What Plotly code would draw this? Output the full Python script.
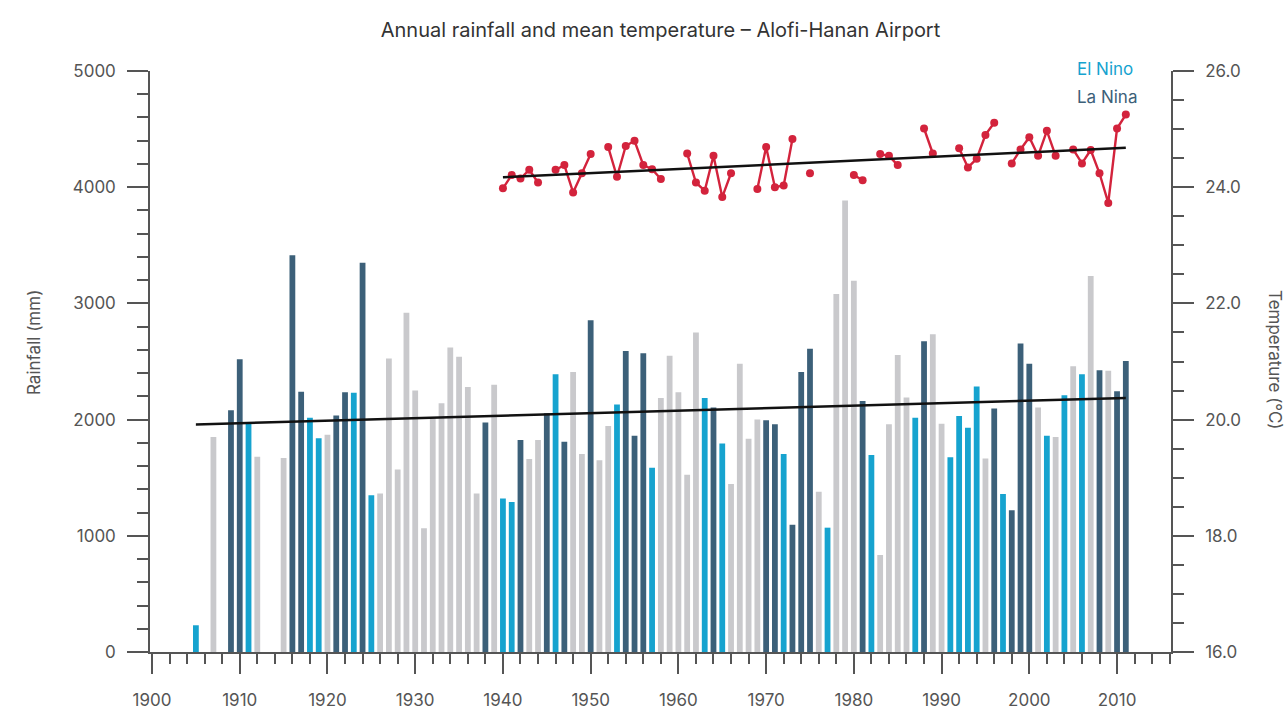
import plotly.graph_objects as go

# ---------------- data ----------------
rain_years = list(range(1905, 2012))
rainfall = [
    230, None, 1850, None, 2080, 2520, 1970, 1680, None, None,          # 1905-1914
    1670, 3415, 2240, 2015, 1840, 1870, 2035, 2235, 2230, 3350,          # 1915-1924
    1350, 1365, 2525, 1570, 2920, 2250, 1065, 2010, 2140, 2620,          # 1925-1934
    2540, 2280, 1365, 1975, 2300, 1320, 1290, 1825, 1660, 1825,          # 1935-1944
    2055, 2390, 1810, 2410, 1705, 2855, 1650, 1945, 2130, 2590,          # 1945-1954
    1860, 2570, 1585, 2185, 2550, 2235, 1525, 2750, 2185, 2105,          # 1955-1964
    1795, 1445, 2480, 1835, 2000, 1995, 1960, 1705, 1095, 2410,          # 1965-1974
    2610, 1380, 1070, 3080, 3885, 3195, 2160, 1695, 835, 1960,           # 1975-1984
    2555, 2190, 2015, 2675, 2735, 1965, 1675, 2030, 1930, 2285,          # 1985-1994
    1665, 2095, 1360, 1220, 2655, 2480, 2105, 1860, 1850, 2210,          # 1995-2004
    2460, 2390, 3235, 2425, 2420, 2245, 2505,                            # 2005-2011
]
# E = El Nino, L = La Nina, N = neutral
enso = list(
    "ENNNLLEN" "NN"
    "NLLEENLLEL"
    "ENNNNNNNNN"
    "NNNLNEELNN"
    "LELNNLNNEL"
    "LLENNNNNEL"
    "ENNNNLLELL"
    "LNENNNLENN"
    "NNELNNEEEE"
    "NLELLLNENE"
    "NENLNLL"
)

temp_years = list(range(1940, 2012))
temperature = [
    23.98, 24.21, 24.15, 24.30, 24.08, None, 24.30, 24.38, 23.91, 24.24,   # 1940-1949
    24.57, None, 24.69, 24.18, 24.71, 24.80, 24.38, 24.31, 24.14, None,    # 1950-1959
    None, 24.58, 24.08, 23.94, 24.54, 23.83, 24.24, None, None, 23.97,     # 1960-1969
    24.69, 24.00, 24.03, 24.83, None, 24.24, None, None, None, None,       # 1970-1979
    24.21, 24.12, None, 24.57, 24.54, 24.38, None, None, 25.01, 24.58,     # 1980-1989
    None, None, 24.67, 24.34, 24.49, 24.90, 25.11, None, 24.41, 24.65,     # 1990-1999
    24.86, 24.54, 24.97, 24.54, None, 24.65, 24.41, 24.64, 24.24, 23.73,   # 2000-2009
    25.01, 25.25,                                                          # 2010-2011
]

rain_trend_years = [1905, 2011]
rain_trend = [1958, 2186]
temp_trend_years = [1940, 2011]
temp_trend = [24.17, 24.68]

title_text = "Annual rainfall and mean temperature \u2013 Alofi-Hanan Airport"

# ---------------- style ----------------
C_EL = "#16a3cf"
C_LA = "#3c6079"
C_NEU = "#c9c9cc"
C_RED = "#d3233c"
AX = "#555555"
TXT = "#555555"
FONT = "Inter, Liberation Sans, Arial, sans-serif"
color_map = {"E": C_EL, "L": C_LA, "N": C_NEU}
bar_colors = [color_map[c] for c in enso]

# body margin is removed by a post script, so the figure fills the window
W, H = 1286, 712
PL, PR, PT, PB = 150, 1171, 71, 652          # plot area in page pixels
L, R, T, B = PL, W - PR, PT, H - PB
PW = PR - PL
PH = PB - PT


def px_x(px):
    return (px - PL) / PW


def px_y(py):
    return (PB - py) / PH


fig = go.Figure()

fig.add_trace(go.Bar(
    x=rain_years, y=rainfall, width=0.66,
    marker=dict(color=bar_colors, line=dict(width=0)),
    showlegend=False, hoverinfo="x+y",
))
fig.add_trace(go.Scatter(
    x=rain_trend_years, y=rain_trend, mode="lines",
    line=dict(color="#111111", width=2.5), showlegend=False,
))
fig.add_trace(go.Scatter(
    x=temp_years, y=temperature, yaxis="y2", mode="lines+markers",
    line=dict(color=C_RED, width=2.4), marker=dict(color=C_RED, size=8),
    connectgaps=False, showlegend=False,
))
fig.add_trace(go.Scatter(
    x=temp_trend_years, y=temp_trend, yaxis="y2", mode="lines",
    line=dict(color="#111111", width=2.5), showlegend=False,
))

tickfont = dict(family=FONT, size=17, color=TXT)

fig.update_layout(
    width=W, height=H,
    margin=dict(l=L, r=R, t=T, b=B, pad=0, autoexpand=False),
    paper_bgcolor="white", plot_bgcolor="white",
    font=dict(family=FONT, color=TXT),
    barmode="overlay",
    title=dict(text=title_text, x=0.5, xref="paper", xanchor="center",
               y=1 - 30 / H, yanchor="middle",
               font=dict(family=FONT, size=20, color="#333333")),
    xaxis=dict(
        range=[1899.77, 2016.15], showline=True, linecolor=AX, linewidth=1.5,
        showgrid=False, zeroline=False, automargin=False,
        tick0=1900, dtick=10, ticks="outside", ticklen=20, tickwidth=1.5,
        tickcolor=AX, tickfont=tickfont, ticklabelstandoff=12,
        minor=dict(dtick=2, tick0=1900, ticks="outside", ticklen=10,
                   tickwidth=1.5, tickcolor=AX, showgrid=False),
    ),
    yaxis=dict(
        range=[0, 5000], showline=True, linecolor=AX, linewidth=1.5,
        showgrid=False, zeroline=False, automargin=False,
        tick0=0, dtick=1000, ticks="outside", ticklen=21, tickwidth=1.5,
        tickcolor=AX, tickfont=tickfont, ticklabelstandoff=8,
        minor=dict(dtick=200, ticks="outside", ticklen=11, tickwidth=1.5,
                   tickcolor=AX, showgrid=False),
    ),
    yaxis2=dict(
        range=[16, 26], overlaying="y", side="right", anchor="x",
        showline=True, linecolor=AX, linewidth=1.5,
        showgrid=False, zeroline=False, automargin=False,
        tick0=16, dtick=2, tickformat=".1f", ticks="outside", ticklen=21,
        tickwidth=1.5, tickcolor=AX, tickfont=tickfont, ticklabelstandoff=8,
        minor=dict(dtick=0.5, ticks="outside", ticklen=11, tickwidth=1.5,
                   tickcolor=AX, showgrid=False),
    ),
    annotations=[
        dict(text="Rainfall (mm)", xref="paper", yref="paper",
             x=px_x(34), y=px_y(343), textangle=-90, showarrow=False,
             xanchor="center", yanchor="middle",
             font=dict(family=FONT, size=17, color=TXT)),
        dict(text="Temperature (\u00b0C)", xref="paper", yref="paper",
             x=px_x(1275), y=px_y(360), textangle=90, showarrow=False,
             xanchor="center", yanchor="middle",
             font=dict(family=FONT, size=17, color=TXT)),
        dict(text="El Nino", xref="paper", yref="paper",
             x=px_x(1075), y=px_y(69), showarrow=False,
             xanchor="left", yanchor="middle",
             font=dict(family=FONT, size=17, color=C_EL)),
        dict(text="La Nina", xref="paper", yref="paper",
             x=px_x(1075), y=px_y(97), showarrow=False,
             xanchor="left", yanchor="middle",
             font=dict(family=FONT, size=17, color=C_LA)),
    ],
)

fig.write_html(
    "out.html",
    config={"displayModeBar": False},
    post_script="document.body.style.margin='0';document.body.style.overflow='hidden';",
)
